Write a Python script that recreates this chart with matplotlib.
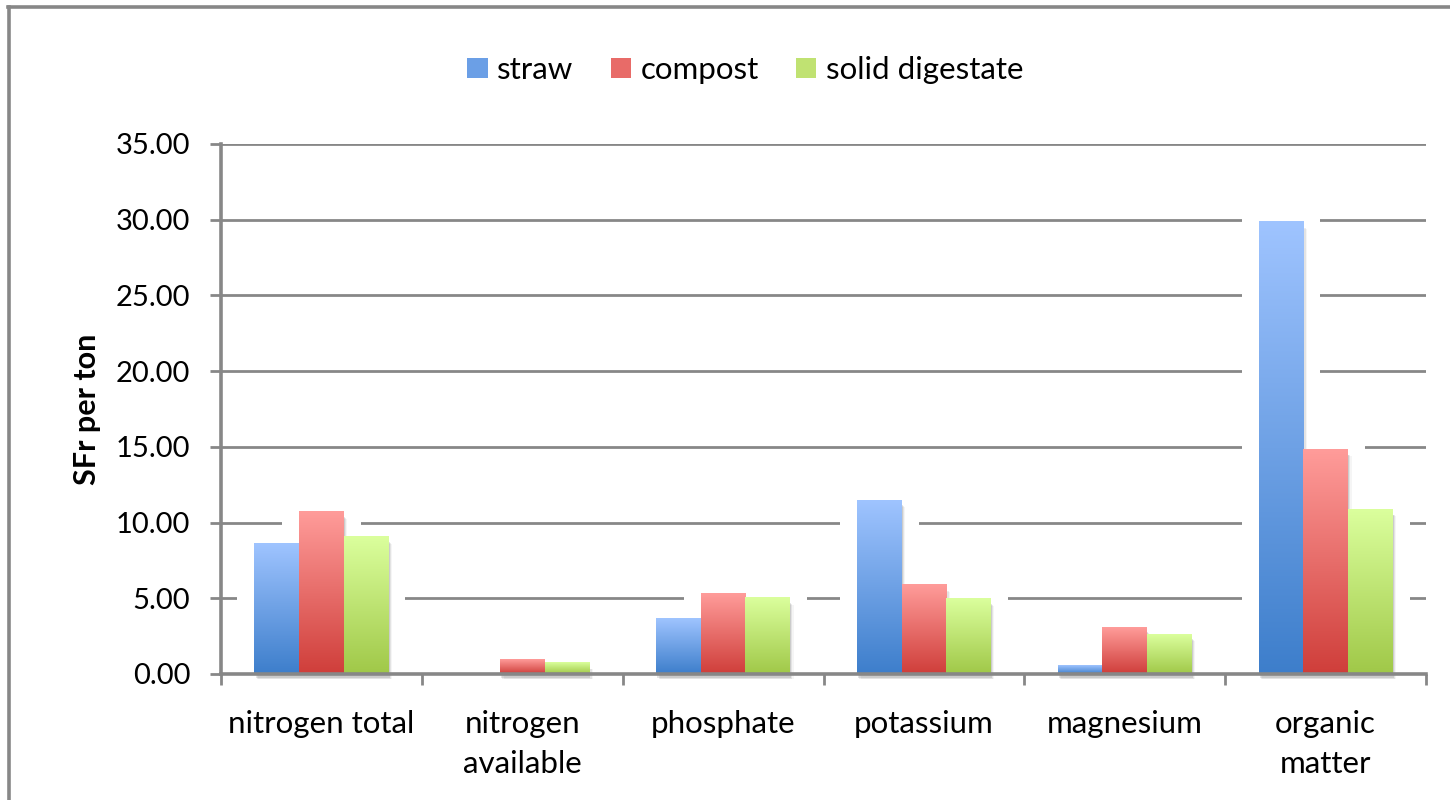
import numpy as np
import matplotlib
matplotlib.use('Agg')
import matplotlib.pyplot as plt
from matplotlib.patches import Rectangle, Patch
from matplotlib.lines import Line2D
from matplotlib.colors import LinearSegmentedColormap
from matplotlib.ticker import FormatStrFormatter

plt.rcParams['font.family'] = ['Lato', 'DejaVu Sans']

categories = ['nitrogen total', 'nitrogen\navailable', 'phosphate', 'potassium', 'magnesium', 'organic\nmatter']
series_names = ['straw', 'compost', 'solid digestate']
straw = [8.59, 0.0, 3.65, 11.49, 0.53, 29.86]
compost = [10.70, 0.94, 5.29, 5.89, 3.10, 14.83]
digestate = [9.05, 0.75, 5.03, 4.96, 2.64, 10.88]
y_ticks = [0, 5, 10, 15, 20, 25, 30, 35]

# gradient ends for each series (bottom -> top)
bottom_colors = ['#3d7ecb', '#cf3e3a', '#a0c848']
top_colors = ['#9fc4ff', '#ff9c9a', '#dbff9d']
legend_colors = ['#6b9fe6', '#e86b68', '#c0e272']
grey = '#878787'

W, H = 1450, 800
fig = plt.figure(figsize=(W / 100, H / 100), dpi=100)
ax = fig.add_axes([221 / W, 1 - 674 / H, (1426 - 221) / W, (674 - 144) / H])

bar_w = 1 / 4.5
grad = np.linspace(0, 1, 256).reshape(-1, 1)
all_series = [straw, compost, digestate]

for s, vals in enumerate(all_series):
    cmap = LinearSegmentedColormap.from_list('g%d' % s, [bottom_colors[s], top_colors[s]])
    for i, v in enumerate(vals):
        if v <= 0:
            continue
        x0 = i + 0.5 + (s - 1.5) * bar_w
        # white glow hiding the gridlines next to the bars
        ax.add_patch(Rectangle((x0 - 0.085, 0), bar_w + 0.17, v + 0.3, fc='white', ec='none', zorder=1))
        # soft shadow
        for k, a in enumerate([0.10, 0.07, 0.04]):
            dx = 0.006 * (k + 1)
            ax.add_patch(Rectangle((x0 + dx, -0.25 - 0.05 * k), bar_w, v - 0.1, fc='black', ec='none',
                                   alpha=a, zorder=2, clip_on=False))
        ax.imshow(grad, cmap=cmap, origin='lower', aspect='auto',
                  extent=[x0, x0 + bar_w, 0, v], zorder=3, interpolation='bilinear')

ax.set_xlim(0, len(categories))
ax.set_ylim(0, 35)
ax.set_axisbelow(True)
ax.yaxis.grid(True, color=grey, linewidth=2.0)
ax.set_yticks(y_ticks)
ax.yaxis.set_major_formatter(FormatStrFormatter('%.2f'))
ax.tick_params(axis='y', length=8, width=2.0, color=grey, labelsize=21, pad=14)

ax.set_xticks([i + 0.5 for i in range(len(categories))])
ax.set_xticklabels(categories, linespacing=1.5)
ax.set_xticks(range(len(categories) + 1), minor=True)
ax.tick_params(axis='x', which='major', length=0, labelsize=22.5, pad=26)
ax.tick_params(axis='x', which='minor', length=8, width=2.0, color=grey)

for side in ['top', 'right']:
    ax.spines[side].set_visible(False)
for side in ['left', 'bottom']:
    ax.spines[side].set_color(grey)
    ax.spines[side].set_linewidth(2.6)
    ax.spines[side].set_zorder(4)

ax.set_ylabel('SFr per ton', fontsize=22, fontweight='bold', labelpad=11)

handles = [Patch(facecolor=c, edgecolor='none') for c in legend_colors]
fig.legend(handles, series_names, loc='center', bbox_to_anchor=(0.514, 0.9125), ncol=3, frameon=False,
           fontsize=22.5, handlelength=0.65, handleheight=0.65, handletextpad=0.3, columnspacing=1.2)

# outer chart frame (only top and left edge visible in the crop)
fig.add_artist(Line2D([9 / W, 9 / W], [0, 1 - 7 / H], color=grey, linewidth=2.6))
fig.add_artist(Line2D([8 / W, 1], [1 - 7 / H, 1 - 7 / H], color=grey, linewidth=2.6))

fig.savefig('out.png', dpi=100)
